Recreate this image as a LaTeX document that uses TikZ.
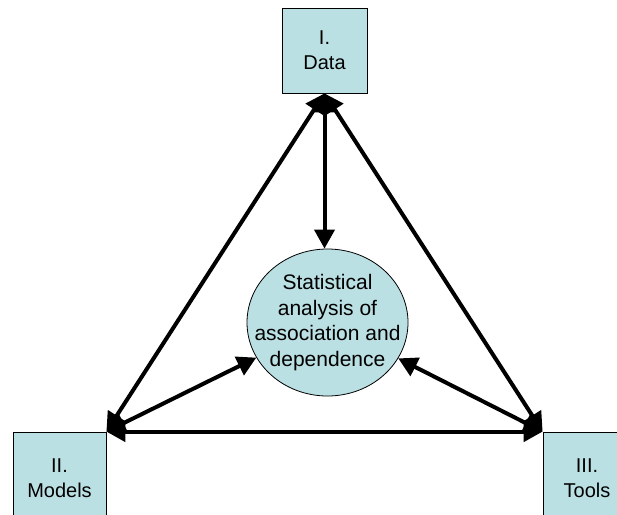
\documentclass[tikz,border=0pt]{standalone}
\usepackage{fontspec}
\setmainfont{Liberation Sans}
\usetikzlibrary{arrows.meta,shapes.geometric}
\definecolor{boxfill}{RGB}{187,224,227}
\begin{document}
\begin{tikzpicture}[x=1pt,y=-1pt,
  lbl/.style={font=\fontsize{20}{25}\selectfont, align=center, text=black},
  sq/.style={lbl, draw=black, line width=0.8pt, fill=boxfill, inner sep=0pt},
  tip/.style={Triangle[length=19pt,width=20pt]},
  link/.style={line width=4pt, {Triangle[length=19pt,width=20pt]}-{Triangle[length=19pt,width=20pt]}}
]
\useasboundingbox (0,0) rectangle (617,514);
\node[sq, minimum width=85pt, minimum height=85pt] (d) at (324.5,50.5) {I.\\Data};
\node[sq, minimum width=93pt, minimum height=92pt] (m) at (59.5,478) {II.\\Models};
\node[sq, minimum width=88pt, minimum height=92pt] (t) at (587,478) {III.\\Tools};
\node[ellipse, draw=black, line width=0.8pt, fill=boxfill, minimum width=161pt, minimum height=147pt, inner sep=0pt] (e) at (327.5,322.5) {};
\node[lbl, font=\fontsize{21}{25.5}\selectfont] (et) at (e.center) {Statistical\\analysis of\\association and\\dependence};
\draw[link] (d.south) -- (d.south |- e.north);
\draw[link] (d.south) -- (m.north east);
\draw[link] (d.south) -- (t.north west);
\draw[link] (m.north east) -- (t.north west);
\draw[link] (e) -- (m.north east);
\draw[link] (e) -- (t.north west);
\end{tikzpicture}
\end{document}
